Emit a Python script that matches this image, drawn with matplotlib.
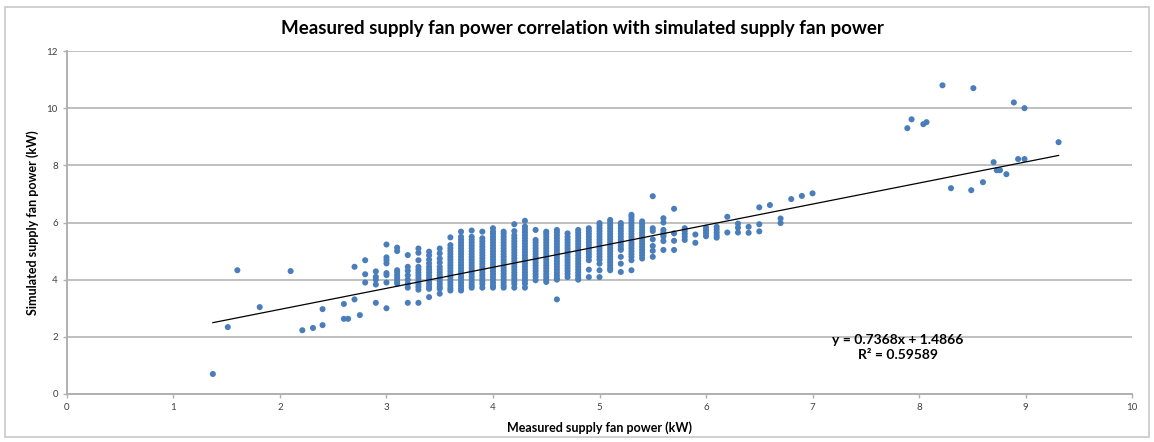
import matplotlib
matplotlib.use("Agg")
import matplotlib.pyplot as plt
from matplotlib.patches import Rectangle
import numpy as np

# measured (x) vs simulated (y) fan power, kW - columns of readings
col_x = [2.7, 2.8, 2.9, 3.0, 3.1, 3.2, 3.3, 3.4, 3.5, 3.6, 3.7, 3.8, 3.9, 4.0,
         4.1, 4.2, 4.3, 4.4, 4.5, 4.6, 4.7, 4.8, 4.9, 5.0, 5.1, 5.2, 5.3, 5.4,
         5.5, 5.6, 5.7, 5.8, 5.9, 6.0, 6.1, 6.2, 6.3, 6.4, 6.5, 6.6, 6.7, 6.8,
         6.9, 7.0]
col_y = [
    [4.45, 3.31],
    [4.68, 4.19, 3.90],
    [4.29, 4.10, 4.00, 3.83, 3.19],
    [5.23, 4.78, 4.68, 4.57, 4.23, 4.16, 3.90, 3.00],
    [5.12, 5.00, 4.33, 4.25, 4.15, 4.05, 3.95, 3.86],
    [4.86, 4.45, 4.31, 4.15, 4.00, 3.86, 3.72, 3.19],
    [5.09, 4.94, 4.68, 4.45, 4.35, 4.25, 4.15, 4.05, 3.95, 3.85, 3.75, 3.65, 3.19],
    [4.98, 4.85, 4.70, 4.57, 4.45, 4.35, 4.25, 4.15, 4.05, 3.95, 3.85, 3.75, 3.68, 3.39],
    [5.09, 4.92, 4.74, 4.60, 4.45, 4.35, 4.25, 4.15, 4.05, 3.95, 3.85, 3.75, 3.68, 3.51],
    [5.48, 5.21, 5.1, 5.0, 4.9, 4.8, 4.7, 4.6, 4.5, 4.4, 4.3, 4.2, 4.1, 4.0, 3.9, 3.8, 3.7, 3.62],
    [5.68, 5.5, 5.4, 5.3, 5.2, 5.1, 5.0, 4.9, 4.8, 4.7, 4.6, 4.5, 4.4, 4.3, 4.2, 4.1, 4.0, 3.9, 3.8, 3.7, 3.62],
    [5.72, 5.5, 5.4, 5.3, 5.2, 5.1, 5.0, 4.9, 4.8, 4.7, 4.6, 4.5, 4.4, 4.3, 4.2, 4.1, 4.0, 3.9, 3.8, 3.72],
    [5.68, 5.45, 5.35, 5.25, 5.15, 5.05, 4.95, 4.85, 4.75, 4.65, 4.55, 4.45, 4.35, 4.25, 4.15, 4.05, 3.95, 3.85, 3.72],
    [5.80, 5.68, 5.6, 5.5, 5.4, 5.3, 5.2, 5.1, 5.0, 4.9, 4.8, 4.7, 4.6, 4.5, 4.4, 4.3, 4.2, 4.1, 4.0, 3.9, 3.8, 3.72],
    [5.68, 5.6, 5.5, 5.4, 5.3, 5.2, 5.1, 5.0, 4.9, 4.8, 4.7, 4.6, 4.5, 4.4, 4.3, 4.2, 4.1, 4.0, 3.9, 3.8, 3.72],
    [5.94, 5.70, 5.55, 5.45, 5.35, 5.25, 5.15, 5.05, 4.95, 4.85, 4.75, 4.65, 4.55, 4.45, 4.35, 4.25, 4.15, 4.05, 3.95, 3.85, 3.72],
    [6.06, 5.86, 5.76, 5.66, 5.56, 5.46, 5.36, 5.26, 5.16, 5.06, 4.96, 4.86, 4.76, 4.66, 4.56, 4.46, 4.36, 4.26, 4.16, 4.06, 3.96, 3.86, 3.72],
    [5.74, 5.39, 5.3, 5.2, 5.1, 5.0, 4.9, 4.8, 4.7, 4.6, 4.5, 4.4, 4.3, 4.2, 4.1, 3.98],
    [5.68, 5.6, 5.5, 5.4, 5.3, 5.2, 5.1, 5.0, 4.9, 4.8, 4.7, 4.6, 4.5, 4.4, 4.3, 4.2, 4.1, 4.0, 3.92],
    [5.74, 5.65, 5.55, 5.45, 5.35, 5.25, 5.15, 5.05, 4.95, 4.85, 4.75, 4.65, 4.55, 4.45, 4.35, 4.25, 4.15, 4.05, 4.00, 3.31],
    [5.62, 5.5, 5.4, 5.3, 5.2, 5.1, 5.0, 4.9, 4.8, 4.7, 4.6, 4.5, 4.4, 4.3, 4.2, 4.09],
    [5.74, 5.65, 5.55, 5.45, 5.35, 5.25, 5.15, 5.05, 4.95, 4.85, 4.75, 4.65, 4.55, 4.45, 4.35, 4.25, 4.15, 4.05, 4.00],
    [5.80, 5.7, 5.6, 5.5, 5.4, 5.3, 5.2, 5.1, 5.0, 4.9, 4.8, 4.68, 4.35, 4.09],
    [5.98, 5.9, 5.8, 5.7, 5.6, 5.5, 5.4, 5.3, 5.2, 5.1, 5.0, 4.9, 4.8, 4.7, 4.56, 4.33, 4.09],
    [6.09, 6.0, 5.9, 5.8, 5.7, 5.6, 5.5, 5.4, 5.3, 5.2, 5.1, 5.0, 4.9, 4.8, 4.7, 4.6, 4.5, 4.4, 4.33],
    [5.98, 5.9, 5.8, 5.7, 5.6, 5.5, 5.4, 5.3, 5.2, 5.1, 5.04, 4.80, 4.56, 4.27],
    [6.27, 6.2, 6.1, 6.0, 5.9, 5.8, 5.7, 5.6, 5.5, 5.4, 5.3, 5.2, 5.1, 5.0, 4.9, 4.8, 4.68, 4.33],
    [6.04, 5.95, 5.85, 5.75, 5.65, 5.55, 5.45, 5.35, 5.25, 5.15, 5.05, 4.95, 4.85, 4.74],
    [6.92, 5.80, 5.70, 5.41, 5.18, 5.01, 4.80],
    [6.15, 6.00, 5.74, 5.65, 5.58, 5.51, 5.35, 5.04],
    [6.48, 5.62, 5.36, 5.04],
    [5.80, 5.70, 5.60, 5.50, 5.39],
    [5.58, 5.29],
    [5.82, 5.72, 5.62, 5.52],
    [5.85, 5.75, 5.65, 5.55, 5.47],
    [6.20, 5.65],
    [5.96, 5.82, 5.65],
    [5.85, 5.64],
    [6.53, 5.94, 5.69],
    [6.61],
    [6.14, 5.98],
    [6.82],
    [6.93],
    [7.02],
]

# isolated readings
out_x = [1.37, 1.51, 1.60, 1.81, 2.10, 2.21, 2.31, 2.40, 2.40, 2.60, 2.60, 2.64,
         2.75, 7.89, 7.93, 8.04, 8.07, 8.22, 8.30, 8.49, 8.51, 8.60, 8.70, 8.73,
         8.76, 8.82, 8.89, 8.93, 8.99, 8.99, 9.31]
out_y = [0.70, 2.34, 4.33, 3.04, 4.30, 2.23, 2.31, 2.41, 2.97, 3.15, 2.63, 2.63,
         2.76, 9.30, 9.61, 9.44, 9.51, 10.80, 7.20, 7.13, 10.70, 7.41, 8.11, 7.83,
         7.83, 7.69, 10.20, 8.22, 10.00, 8.22, 8.81]

# linear trendline as reported
slope, intercept = 0.7368, 1.4866
r2 = 0.59589

xs = [x for x, ys in zip(col_x, col_y) for _ in ys] + out_x
ys = [y for ys_ in col_y for y in ys_] + out_y

plt.rcParams['font.family'] = ['Lato', 'DejaVu Sans']

fig = plt.figure(figsize=(11.54, 4.42), dpi=100)
fig.patches.append(Rectangle((0.004, 0.012), 0.992, 0.972, transform=fig.transFigure,
                             fill=False, edgecolor='#c8c8c8', linewidth=1.2))
ax = fig.add_axes([0.058, 0.1086, 0.923, 0.776])

ax.scatter(xs, ys, s=19, color='#4a7ebb', edgecolors='none', zorder=3)

tx = np.array([min(xs), max(xs)])
ax.plot(tx, slope * tx + intercept, color='black', linewidth=0.9, zorder=4)

ax.set_xlim(0, 10)
ax.set_ylim(0, 12)
ax.set_xticks(range(0, 11))
ax.set_yticks(range(0, 13, 2))
ax.grid(axis='y', color='#c0c0c0', linewidth=1.4)
ax.set_axisbelow(True)
for s in ['top', 'right']:
    ax.spines[s].set_visible(False)
for s in ['left', 'bottom']:
    ax.spines[s].set_color('#b0b0b0')
    ax.spines[s].set_linewidth(1.4)
ax.tick_params(colors='#b0b0b0', labelcolor='#404040', labelsize=7, length=3, width=1)

fig.suptitle('Measured supply fan power correlation with simulated supply fan power',
             x=0.505, y=0.955, fontsize=13.5, fontweight='bold')
ax.set_xlabel('Measured supply fan power (kW)', fontsize=9, fontweight='bold', labelpad=7)
ax.set_ylabel('Simulated supply fan power (kW)', fontsize=9, fontweight='bold', labelpad=5)

ax.text(7.8, 1.62, f'y = {slope}x + {intercept}\nR² = {r2}', ha='center', va='center',
        fontsize=10, fontweight='bold', linespacing=1.3)

fig.savefig('out.png', dpi=100)
